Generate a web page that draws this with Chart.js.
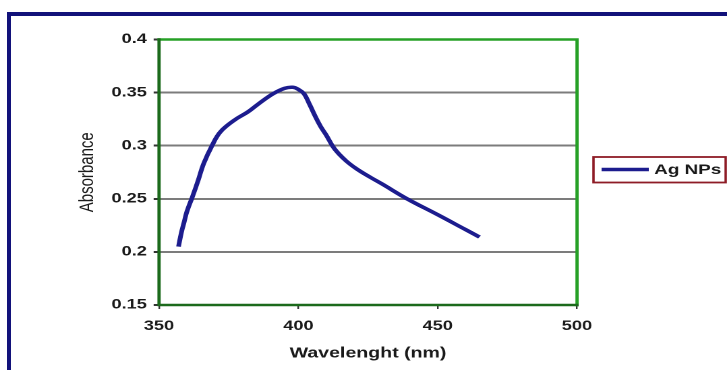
<!DOCTYPE html>
<html>
<head>
<meta charset="utf-8">
<script src="https://cdn.jsdelivr.net/npm/chart.js@4/dist/chart.umd.min.js"></script>
<style>
  html, body { margin: 0; padding: 0; background: #ffffff; overflow: hidden; }
  #frame {
    position: absolute; left: 7px; top: 12px; width: 760px; height: 400px;
    border: 4px solid #12127a; background: #ffffff;
  }
  #plot {
    position: absolute; left: 0; top: 0;
    transform: scaleX(1.3488); transform-origin: 0 0;
  }
</style>
</head>
<body>
<div id="frame"></div>
<canvas id="plot" width="539" height="370"></canvas>
<script>
// spectrum values
const wavelength = [357, 358, 359, 360, 362, 364, 366, 369, 372, 377, 382, 386, 391, 395, 398,
  400, 402, 404, 406, 408, 410, 413, 417, 421, 426, 430, 439, 450, 460, 465];
const absorbance = [0.205, 0.218, 0.228, 0.238, 0.252, 0.267, 0.283, 0.300, 0.313, 0.324, 0.332,
  0.340, 0.349, 0.354, 0.355, 0.353, 0.349, 0.339, 0.328, 0.318, 0.310, 0.297, 0.286, 0.278,
  0.270, 0.264, 0.250, 0.235, 0.221, 0.214];
const seriesLabel = 'Ag NPs';
const xTitle = 'Wavelenght (nm)';
const yTitle = 'Absorbance';

const fontFam = '"Liberation Sans", Arial, sans-serif';
const lineColor = '#1c1c8e';

// green frame around the plot area
const plotFrame = {
  id: 'plotFrame',
  afterDraw(chart) {
    const { ctx, chartArea: a } = chart;
    ctx.save();
    ctx.lineWidth = 2.4;
    ctx.lineCap = 'square';
    ctx.strokeStyle = '#26a026';
    ctx.beginPath();
    ctx.moveTo(a.left, a.top); ctx.lineTo(a.right, a.top); ctx.lineTo(a.right, a.bottom);
    ctx.stroke();
    ctx.strokeStyle = '#1c6a1c';
    ctx.beginPath();
    ctx.moveTo(a.left, a.top); ctx.lineTo(a.left, a.bottom); ctx.lineTo(a.right, a.bottom);
    ctx.stroke();
    ctx.restore();
  }
};

// boxed legend on the right
const boxLegend = {
  id: 'boxLegend',
  afterDraw(chart) {
    const ctx = chart.ctx;
    const ds = chart.data.datasets[0];
    ctx.save();
    ctx.strokeStyle = '#8e1c26';
    ctx.lineWidth = 1.8;
    ctx.strokeRect(440, 157, 98, 25.5);
    ctx.strokeStyle = ds.borderColor;
    ctx.lineWidth = 3.5;
    ctx.beginPath();
    ctx.moveTo(446, 169.5); ctx.lineTo(481, 169.5);
    ctx.stroke();
    ctx.fillStyle = '#1a1a1a';
    ctx.font = 'bold 14px ' + fontFam;
    ctx.textBaseline = 'middle';
    ctx.fillText(ds.label, 485, 170);
    ctx.restore();
  }
};

new Chart(document.getElementById('plot'), {
  type: 'scatter',
  data: {
    datasets: [{
      label: seriesLabel,
      data: wavelength.map((w, i) => ({ x: w, y: absorbance[i] })),
      showLine: true,
      borderColor: lineColor,
      borderWidth: 3.5,
      pointRadius: 0,
      tension: 0.4
    }]
  },
  options: {
    responsive: false,
    animation: false,
    devicePixelRatio: 2,
    layout: { padding: { left: 52, top: 39.5, right: 111.2, bottom: 3.6 } },
    plugins: { legend: { display: false }, tooltip: { enabled: false } },
    scales: {
      x: {
        type: 'linear', min: 350, max: 500,
        afterFit: s => { s.height = 61.4; },
        ticks: { stepSize: 50, padding: 9, color: '#1a1a1a', font: { family: fontFam, size: 13.5, weight: 'bold' } },
        grid: { color: 'rgba(0,0,0,0)', tickColor: '#333', tickLength: 4, lineWidth: 1.2 },
        border: { display: false },
        title: { display: true, text: xTitle, color: '#1a1a1a', font: { family: fontFam, size: 14.5, weight: 'bold' } }
      },
      y: {
        min: 0.15, max: 0.4,
        afterFit: s => { s.width = 65.9; },
        ticks: {
          stepSize: 0.05, padding: 5, color: '#1a1a1a',
          font: { family: fontFam, size: 13.5, weight: 'bold' },
          callback: v => String(+v.toFixed(2))
        },
        grid: { color: '#7c7c7c', lineWidth: 2, tickColor: '#333', tickLength: 4 },
        border: { display: false },
        title: { display: true, text: yTitle, color: '#1a1a1a', font: { family: fontFam, size: 15 } }
      }
    }
  },
  plugins: [plotFrame, boxLegend]
});
</script>
</body>
</html>
